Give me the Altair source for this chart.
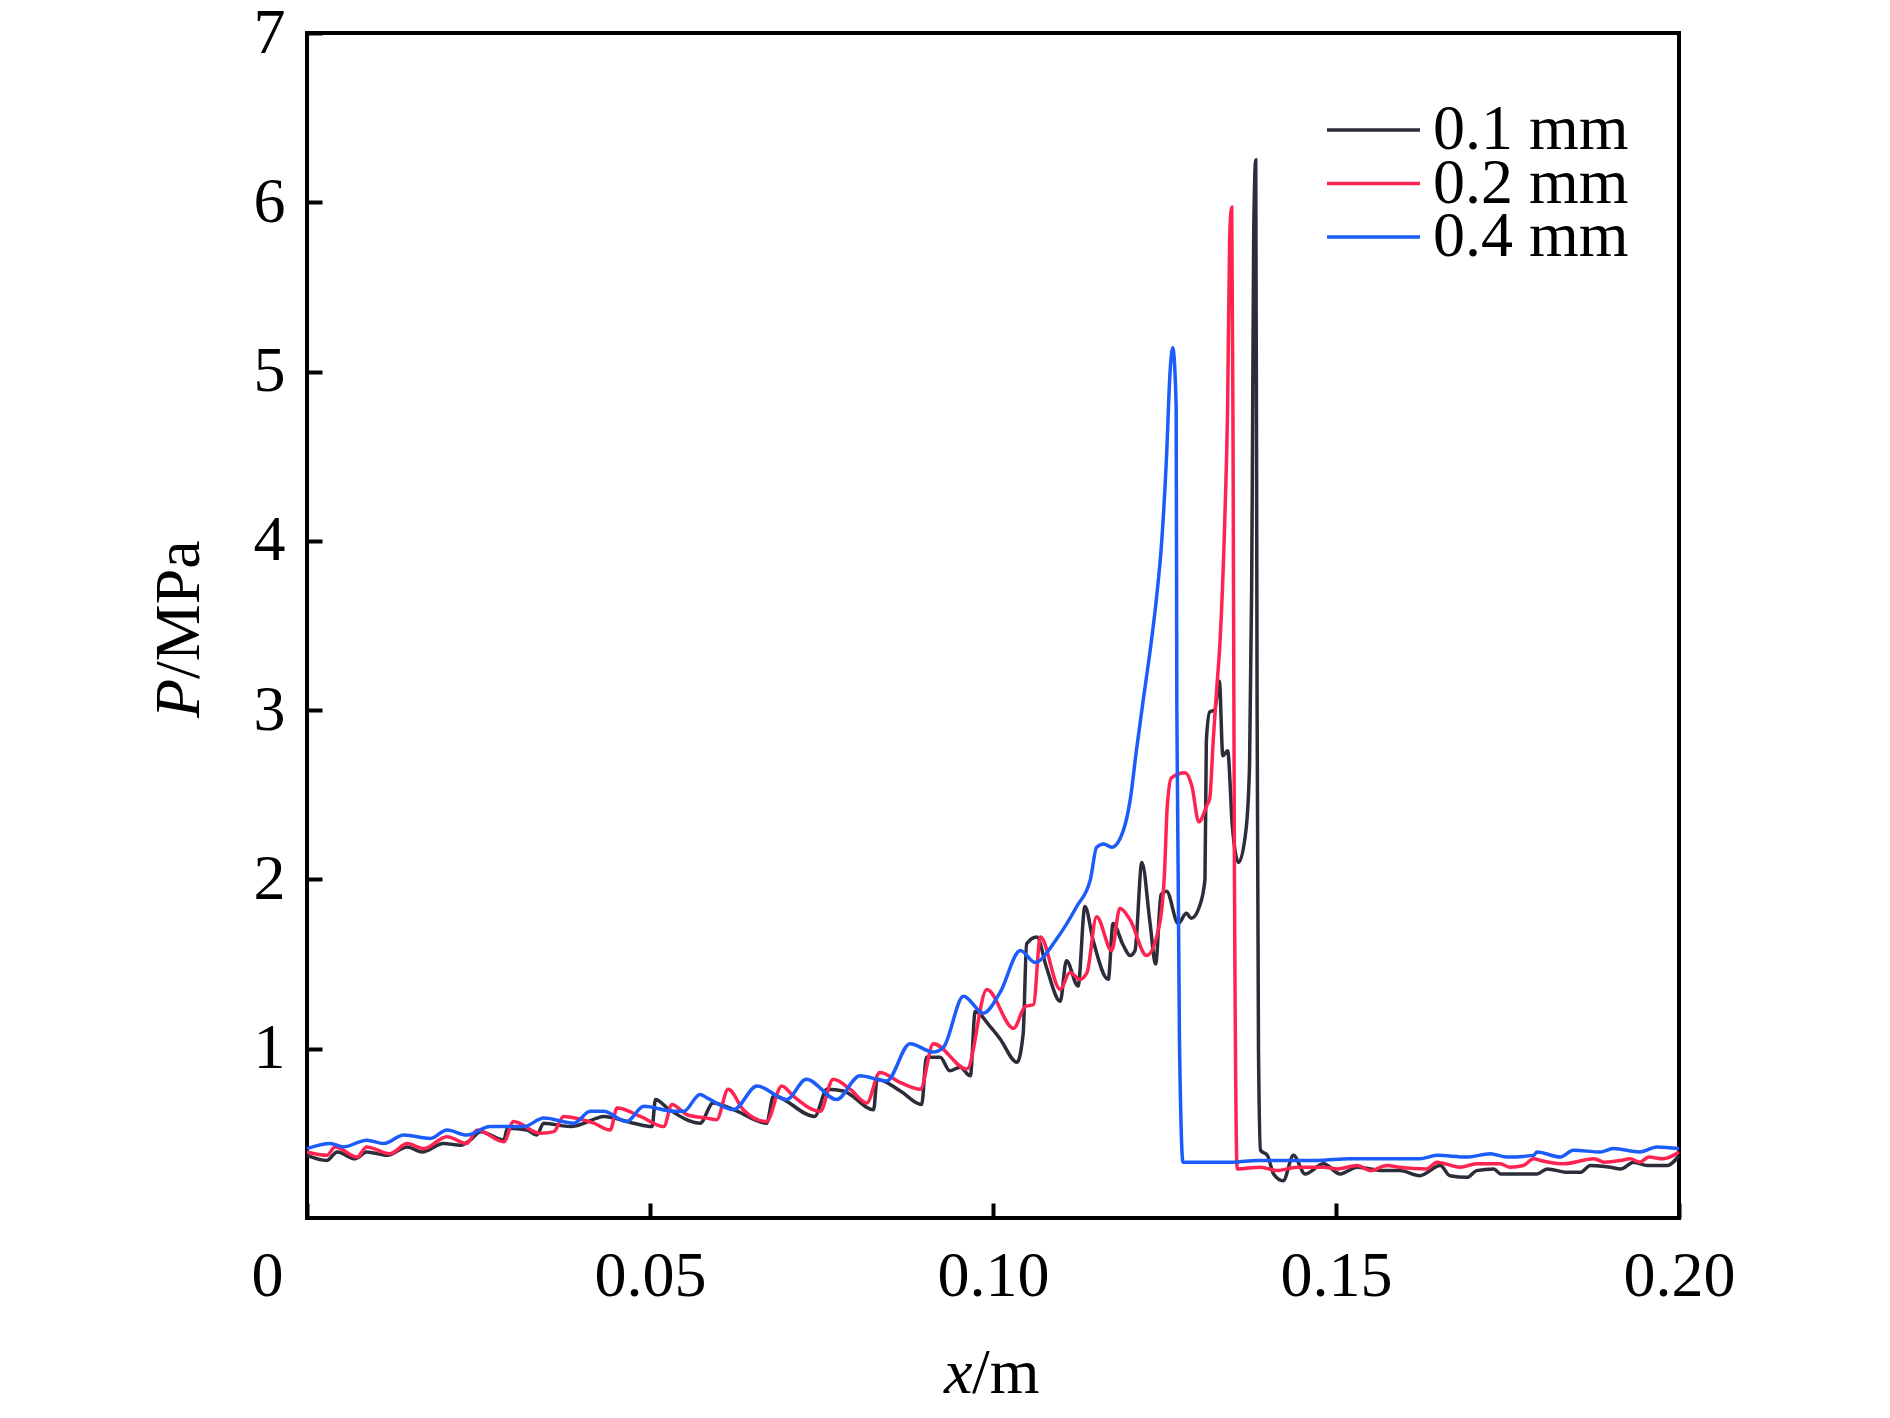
import altair as alt
import pandas as pd

# 0.1 mm 곡선 (x/m, P/MPa)
x_01 = [0, .0029, .0044, .007, .0087, .0117, .0146, .0168, .0199, .0224, .0238, .0253, .0287, .0292,
        .0321, .0335, .0345, .0384, .0423, .0432, .0476, .0503, .0508, .0525, .0554, .0573, .0592, .0622,
        .067, .068, .074, .0758, .0782, .0826, .0831, .0865, .0896, .0903, .0923, .0937, .0952, .0967,
        .0974, .0996, .101, .1035, .1044, .1049, .1064, .1078, .1098, .1107, .1124, .1134, .1146, .1168,
        .1175, .119, .12, .1207, .1217, .1229, .1237, .1245, .1253, .127, .1282, .1289, .1301, .1309,
        .1311, .1316, .1323, .133, .1335, .1342, .1349, .1358, .1369, .1374, .1377, .1378, .138, .1383,
        .1385, .1387, .139, .14, .1409, .1423, .1438, .1455, .1482, .1506, .1531, .157, .1593, .1622,
        .1652, .1666, .1691, .1705, .173, .174, .1764, .1793, .1808, .1837, .1856, .1871, .19, .1915,
        .1934, .1954, .1983, .2]
p_01 = [.37, .34, .39, .35, .39, .37, .42, .39, .44, .43, .46, .51, .46, .53,
        .52, .49, .56, .54, .59, .60, .56, .54, .70, .65, .58, .56, .68, .64,
        .56, .72, .60, .76, .75, .64, .82, .75, .67, .95, .95, .87, .89, .84,
        1.22, 1.13, 1.06, .92, 1.09, 1.62, 1.66, 1.48, 1.28, 1.52, 1.37, 1.84, 1.64, 1.41,
        1.74, 1.61, 1.55, 1.58, 2.10, 1.74, 1.50, 1.91, 1.93, 1.74, 1.80, 1.77, 1.84, 2.00,
        2.82, 2.99, 3.00, 3.17, 2.73, 2.76, 2.31, 2.10, 2.30, 2.68, 3.71, 4.34, 5.80, 6.25,
        3.00, 1.00, .40, .37, .26, .22, .37, .26, .32, .26, .30, .28, .28, .25,
        .31, .25, .24, .28, .29, .26, .26, .26, .29, .27, .27, .31, .30, .29,
        .33, .31, .31, .37]

# 0.2 mm 곡선
x_02 = [0, .0029, .0041, .0073, .0087, .0121, .0146, .017, .0204, .0233, .0248, .0287, .0301, .034,
        .036, .0374, .0418, .0442, .0452, .0486, .052, .0532, .0554, .0583, .0597, .0614, .0636, .067,
        .0692, .0709, .0748, .0767, .0792, .0816, .0835, .0865, .0894, .0913, .0962, .0991, .103, .1047,
        .1059, .1069, .1098, .1112, .1127, .1137, .1151, .1173, .1185, .12, .1224, .1243, .125, .1254,
        .126, .128, .129, .13, .1312, .1316, .1321, .1326, .1331, .1338, .1342, .1345, .1348, .135,
        .1352, .1356, .139, .1414, .1443, .1482, .1501, .1531, .155, .1574, .1593, .1632, .1647, .1681,
        .1705, .1739, .1754, .1773, .1788, .1798, .1832, .1876, .1891, .1915, .1929, .1943, .1956, .1977,
        .2]
p_02 = [.39, .37, .42, .36, .42, .38, .44, .41, .48, .44, .52, .45, .57, .50,
        .51, .60, .56, .52, .65, .60, .54, .67, .61, .59, .58, .76, .64, .57,
        .78, .72, .63, .82, .76, .68, .86, .80, .76, 1.03, .88, 1.35, 1.12, 1.25,
        1.26, 1.66, 1.35, 1.45, 1.41, 1.45, 1.78, 1.58, 1.83, 1.76, 1.55, 1.74, 2.04, 2.43,
        2.60, 2.63, 2.55, 2.34, 2.44, 2.48, 2.82, 3.12, 3.41, 4.14, 4.79, 5.79, 5.97, 4.50,
        2.00, .29, .30, .28, .30, .30, .29, .31, .28, .31, .30, .29, .33, .30,
        .32, .32, .30, .31, .35, .34, .32, .35, .33, .34, .35, .33, .36, .35,
        .39]

# 0.4 mm 곡선
x_04 = [0, .0034, .0053, .0087, .0112, .0141, .018, .0204, .0233, .0267, .0316, .0345, .0389, .0413,
        .0432, .0466, .0491, .0535, .0549, .0573, .0583, .0622, .0656, .0699, .0728, .0772, .0806, .0845,
        .0879, .0913, .0928, .0957, .0986, .101, .104, .1061, .1093, .1122, .1142, .1151, .1161, .1173,
        .119, .12, .1209, .1219, .1229, .1238, .1246, .1253, .1258, .1262, .1267, .1268, .1272, .1277,
        .135, .1385, .1472, .1521, .159, .1622, .1647, .1691, .1725, .1749, .1788, .1793, .1827, .1846,
        .1885, .1904, .1943, .1968, .2]
p_04 = [.41, .44, .42, .46, .44, .49, .47, .52, .49, .54, .54, .59, .56, .63,
        .63, .57, .66, .63, .63, .73, .71, .64, .78, .70, .82, .70, .84, .81,
        1.03, .98, 1.01, 1.31, 1.21, 1.33, 1.58, 1.51, 1.65, 1.84, 2.00, 2.19, 2.21, 2.19,
        2.29, 2.47, 2.76, 3.06, 3.35, 3.65, 4.00, 4.50, 4.99, 5.14, 4.80, 3.00, 1.00, .33,
        .33, .34, .34, .35, .35, .35, .37, .36, .38, .36, .37, .39, .36, .40,
        .39, .41, .39, .42, .41]

series_names = ['0.1 mm', '0.2 mm', '0.4 mm']
series_colors = ['#2c2c3a', '#ff2352', '#1b5cfa']

x_tick_values = [0, 0.05, 0.10, 0.15, 0.20]
y_tick_values = [1, 2, 3, 4, 5, 6, 7]

W, H = 1372, 1185
FONT = 'Liberation Serif'
FS = 64
TICK = 15  # 안쪽 눈금 길이

# 긴 형식 데이터
frames = []
for name, xs, ps in zip(series_names, [x_01, x_02, x_04], [p_01, p_02, p_04]):
    frames.append(pd.DataFrame({'x': xs, 'p': ps, 'series': name}))
data = pd.concat(frames, ignore_index=True)

x_scale = alt.Scale(domain=[0, 0.2], nice=False, zero=False)
y_scale = alt.Scale(domain=[0, 7], nice=False)
color_scale = alt.Scale(domain=series_names, range=series_colors)

# 축을 안쪽으로 TICK 만큼 옮겨서 눈금이 프레임 안쪽을 향하게 함
lines = alt.Chart(data).mark_line(strokeWidth=3.5, interpolate='monotone').encode(
    x=alt.X('x:Q', scale=x_scale, title=None,
            axis=alt.Axis(values=x_tick_values,
                          labelExpr="datum.value === 0 ? '0' : format(datum.value, '.2f')",
                          labelOffset={"condition": {"test": "datum.value === 0", "value": -40}, "value": 0},
                          offset=-TICK, ticks=True, tickSize=TICK, tickWidth=4, tickColor='black',
                          domain=False, grid=False, labelPadding=26,
                          labelFontSize=FS, labelFont=FONT, labelColor='black', labelFlush=False)),
    y=alt.Y('p:Q', scale=y_scale, title=None,
            axis=alt.Axis(values=y_tick_values, format='d',
                          offset=-TICK, ticks=True, tickSize=TICK, tickWidth=4, tickColor='black',
                          domain=False, grid=False,
                          labelPadding=22, labelFontSize=FS, labelFont=FONT, labelColor='black',
                          labelFlush=False)),
    color=alt.Color('series:N', scale=color_scale, legend=None),
)

# 범례 (선 + 글자)
legend_layers = []
for i, name in enumerate(series_names):
    row = pd.DataFrame({'series': [name]})
    yy = 97 + 53.5 * i
    legend_layers.append(alt.Chart(row).mark_rule(strokeWidth=3.5).encode(
        x=alt.value(1020), x2=alt.value(1113), y=alt.value(yy),
        color=alt.Color('series:N', scale=color_scale, legend=None)))
    legend_layers.append(alt.Chart(row).mark_text(
        font=FONT, fontSize=FS, color='black', align='left', baseline='middle'
    ).encode(text='series:N', x=alt.value(1126), y=alt.value(yy)))

# 축 제목 (기울임 문자 분리)
def label(text, italic, **kw):
    return alt.Chart(pd.DataFrame({'t': [text]})).mark_text(
        font=FONT, fontSize=FS, fontStyle='italic' if italic else 'normal', color='black', **kw
    )

y_title_p = label('P', True, angle=270, align='left', baseline='alphabetic').encode(
    text='t:N', x=alt.value(-108), y=alt.value(685))
y_title_rest = label('/MPa', False, angle=270, align='left', baseline='alphabetic').encode(
    text='t:N', x=alt.value(-108), y=alt.value(646))
x_title_x = label('x', True, align='left', baseline='alphabetic').encode(
    text='t:N', x=alt.value(637), y=alt.value(1360))
x_title_rest = label('/m', False, align='left', baseline='alphabetic').encode(
    text='t:N', x=alt.value(665), y=alt.value(1360))

chart = alt.layer(lines, *legend_layers,
                  y_title_p, y_title_rest, x_title_x, x_title_rest).properties(
    width=W, height=H,
    background='white',
    autosize=alt.AutoSizeParams(type='none'),
    padding={'left': 299, 'top': 25, 'right': 203, 'bottom': 192},
).configure_view(
    stroke='black', strokeWidth=4
)

chart.save("out.html", embed_options={"renderer": "svg", "actions": False})
